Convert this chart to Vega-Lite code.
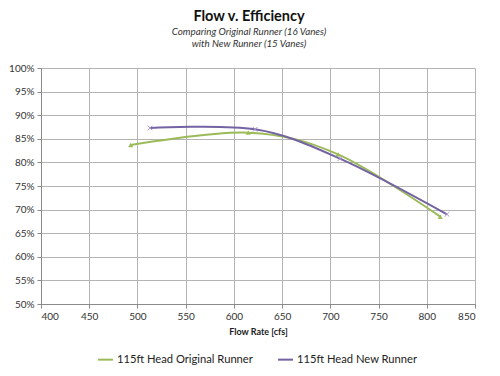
{
  "$schema": "https://vega.github.io/schema/vega-lite/v6.json",
  "width": 434,
  "height": 236,
  "autosize": {"type": "none"},
  "padding": {"left": 41, "top": 68, "right": 25, "bottom": 72},
  "background": "white",
  "config": {
    "font": "Lato",
    "view": {"stroke": null},
    "axis": {
      "gridColor": "#b4b4b4",
      "gridWidth": 1,
      "domainColor": "#8a8a8a",
      "tickColor": "#8a8a8a",
      "tickSize": 4,
      "labelFont": "Lato",
      "labelFontSize": 10,
      "labelColor": "#333333",
      "titleFont": "Lato",
      "titleColor": "#222222"
    }
  },
  "title": {
    "text": "Flow v. Efficiency",
    "subtitle": ["Comparing Original Runner (16 Vanes)", "with New Runner (15 Vanes)"],
    "fontSize": 14.5,
    "fontWeight": "bold",
    "color": "#111111",
    "subtitleFontSize": 9.8,
    "subtitleFontStyle": "italic",
    "subtitleColor": "#333333",
    "subtitleLineHeight": 12,
    "subtitlePadding": 3,
    "anchor": "middle",
    "dx": -9,
    "offset": 13
  },
  "data": {
    "values": [
      {"flow": 493, "eff": 0.837, "series": "115ft Head Original Runner"},
      {"flow": 615, "eff": 0.863, "series": "115ft Head Original Runner"},
      {"flow": 708, "eff": 0.817, "series": "115ft Head Original Runner"},
      {"flow": 814, "eff": 0.685, "series": "115ft Head Original Runner"},
      {"flow": 513, "eff": 0.873, "series": "115ft Head New Runner"},
      {"flow": 622, "eff": 0.870, "series": "115ft Head New Runner"},
      {"flow": 710, "eff": 0.808, "series": "115ft Head New Runner"},
      {"flow": 821, "eff": 0.690, "series": "115ft Head New Runner"}
    ]
  },
  "encoding": {
    "x": {
      "field": "flow",
      "type": "quantitative",
      "scale": {"domain": [400, 850], "nice": false, "zero": false},
      "axis": {
        "values": [400, 450, 500, 550, 600, 650, 700, 750, 800, 850],
        "title": "Flow Rate [cfs]",
        "titleFontSize": 9,
        "titleFontWeight": "bold",
        "titlePadding": 6,
        "labelPadding": 3
      }
    },
    "y": {
      "field": "eff",
      "type": "quantitative",
      "scale": {"domain": [0.5, 1.0], "nice": false, "zero": false},
      "axis": {
        "values": [0.5, 0.55, 0.6, 0.65, 0.7, 0.75, 0.8, 0.85, 0.9, 0.95, 1.0],
        "format": ".0%",
        "title": null,
        "labelPadding": 3
      }
    },
    "color": {
      "field": "series",
      "type": "nominal",
      "scale": {
        "domain": ["115ft Head Original Runner", "115ft Head New Runner"],
        "range": ["#9bbb59", "#7462a3"]
      },
      "legend": {
        "title": null,
        "orient": "none",
        "legendX": 56,
        "legendY": 283,
        "direction": "horizontal",
        "labelFontSize": 11.2,
        "labelColor": "#222222",
        "labelFont": "Lato",
        "symbolType": "M-1,0L1,0",
        "symbolSize": 225,
        "symbolStrokeWidth": 2,
        "columnPadding": 21,
        "labelOffset": 3
      }
    }
  },
  "layer": [
    {
      "mark": {"type": "line", "interpolate": "cardinal", "strokeWidth": 2}
    },
    {
      "transform": [{"filter": "datum.series === '115ft Head Original Runner'"}],
      "mark": {"type": "point", "shape": "triangle-up", "filled": true, "size": 26, "opacity": 1}
    },
    {
      "transform": [{"filter": "datum.series === '115ft Head New Runner'"}],
      "mark": {"type": "point", "shape": "M-1,-1L1,1M-1,1L1,-1", "filled": false, "size": 22, "strokeWidth": 1, "opacity": 1, "stroke": "#a898c8"}
    }
  ]
}
